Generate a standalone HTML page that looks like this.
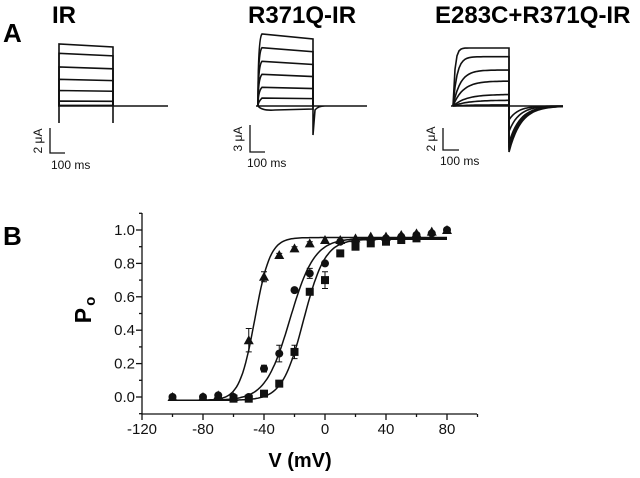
<!DOCTYPE html>
<html><head><meta charset="utf-8"><style>
html,body{margin:0;padding:0;background:#fff;}
svg{display:block;font-family:"Liberation Sans",Arial,sans-serif;}
</style></head><body>
<svg id="fig" width="640" height="478" viewBox="0 0 640 478">
<g id="panelA">
<text x="3" y="42" font-size="26" font-weight="bold">A</text>
<text x="52" y="23" font-size="24" font-weight="bold">IR</text>
<text x="248" y="23" font-size="24" font-weight="bold">R371Q-IR</text>
<text x="435" y="23" font-size="24" font-weight="bold">E283C+R371Q-IR</text>
<g id="traces" fill="none" stroke="#111" stroke-width="1.6"></g>
<g stroke="#111" stroke-width="1.3" fill="none">
<path d="M50 128 V153 H65"/><path d="M250 125 V152 H265"/><path d="M443 128 V150 H459"/>
</g>
<g font-size="12" fill="#111">
<text transform="translate(42,141) rotate(-90)" text-anchor="middle">2 μA</text>
<text x="51" y="169">100 ms</text>
<text transform="translate(242,139) rotate(-90)" text-anchor="middle">3 μA</text>
<text x="247" y="167">100 ms</text>
<text transform="translate(435,139) rotate(-90)" text-anchor="middle">2 μA</text>
<text x="440" y="165">100 ms</text>
</g>
</g>
<g id="panelB">
<text x="3" y="245" font-size="26" font-weight="bold">B</text>
<g id="axes" stroke="#111" stroke-width="1.3" fill="none"></g>
<g id="ticklabels" font-size="15" fill="#111"></g>
<text transform="translate(91,310) rotate(-90)" text-anchor="middle" font-size="23" font-weight="bold">P<tspan font-size="15" dy="4" dx="2">o</tspan></text>
<text x="300" y="467" text-anchor="middle" font-size="20" font-weight="bold">V (mV)</text>
<g id="fits" fill="none" stroke="#111" stroke-width="1.5"></g>
<g id="points" fill="#111" stroke="#111"></g>
</g>
</svg>
<script>
// Panel B data
var voltages = [-100,-80,-70,-60,-50,-40,-30,-20,-10,0,10,20,30,40,50,60,70,80];
var triangleVals = [0,0,0.01,0,0.34,0.72,0.85,0.89,0.92,0.94,0.94,0.95,0.96,0.96,0.97,0.98,0.99,1.0];
var triangleErr = [0,0,0,0,0.07,0.03,0.01,0.01,0.01,0,0,0,0,0,0,0,0,0];
var circleVals = [0,0,0.01,0,0,0.17,0.26,0.64,0.74,0.80,0.93,0.93,0.94,0.95,0.96,0.97,0.98,1.0];
var circleErr = [0,0,0,0,0,0.02,0.05,0,0.03,0,0,0,0,0,0,0,0,0];
var squareVolts = [-60,-50,-40,-30,-20,-10,0,10,20,30,40,50,60];
var squareVals = [-0.01,-0.01,0.02,0.08,0.27,0.63,0.70,0.86,0.90,0.92,0.93,0.94,0.95];
var squareErr = [0,0.01,0,0,0.04,0,0.05,0,0,0,0,0,0];
var fitVhalf = [-46,-23,-14];
var fitSlope = [5,8,7];
var fitBottom = [-0.02,-0.02,-0.02];
var fitTop = [0.955,0.95,0.945];
var xTicks = [-120,-80,-40,0,40,80];
var yTicks = [0,0.2,0.4,0.6,0.8,1.0];
var yTickLabels = ["0.0","0.2","0.4","0.6","0.8","1.0"];

// Panel A trace levels (fraction of max)
var irLevels = [1,0.85,0.63,0.43,0.25,0.08,0.01];
var r371Levels = [1,0.81,0.62,0.44,0.26,0.11,-0.04];
var e283Levels = [1,0.85,0.62,0.43,0.20,0.10,0.02];
var e283Tails = [1,0.95,0.9,0.8,0.55,0.3];

var NS="http://www.w3.org/2000/svg";
function mk(tag,attrs,parent){var e=document.createElementNS(NS,tag);for(var k in attrs)e.setAttribute(k,attrs[k]);parent.appendChild(e);return e;}

// ---- Panel A
var tr=document.getElementById('traces');
function lvl(base,amp,f){return base-amp*f;}
irLevels.forEach(function(f,i){
  var y0=lvl(106,62,f), y1=lvl(106,59,f);
  var p=mk('path',{d:'M59 106 L59 '+y0+' L113 '+y1+' L113 106'},tr);
  
  
});
var b=mk('path',{d:'M58 106 H168 M59 106 V123 M113 106 V123'},tr);


r371Levels.forEach(function(f,i){
  var y0=lvl(106,72,f), y1=lvl(106,67,f);
  var d = f<0 ? 'M258 106 Q262 111 275 110 L313 109 L313 106' : 'M258 106 Q258 '+(y0+4)+' 262 '+y0+' L313 '+y1+' L313 106';
  var p=mk('path',{d:d},tr);
  
  
});
var b2=mk('path',{d:'M256 106 H367 M313 106 L313 135 L315 110 Q318 106 325 106'},tr);


e283Levels.forEach(function(f,i){
  var yss=lvl(106,58,f), tau=2+ (1-f)*14, d='M453 106';
  for(var t=0;t<=56;t+=2){d+=' L'+(453+t)+' '+(106-(106-yss)*(1-Math.exp(-t/tau))).toFixed(1);}
  d+=' L509 106';
  var p=mk('path',{d:d},tr);
  
  
});
e283Tails.forEach(function(f,i){
  var d='M509 106';
  for(var t=0;t<=54;t+=2){d+=' L'+(509+t)+' '+(106+46*f*Math.exp(-t/(8+4*f))).toFixed(1);}
  var p=mk('path',{d:d},tr);
  
  
});
var b3=mk('path',{d:'M451 106 H563'},tr);



// ---- Panel B
function X(v){return 325+(v)*1.525;}
function Y(p){return 397-p*167;}
var ax=document.getElementById('axes');
var axl=mk('path',{d:'M142 213 V414 H477'},ax);


for(var v=-120;v<=100;v+=20){
  var major=(v%40===0);
  var t=mk('line',{x1:X(v),x2:X(v),y1:414,y2:major?420:417},ax);
  
  
}
for(var k=-1;k<=11;k++){
  var p=k/10, major=(k>=0&&k%2===0);
  var t2=mk('line',{x1:major?136:139,x2:142,y1:Y(p),y2:Y(p)},ax);
  
  
}
var tl=document.getElementById('ticklabels');
xTicks.forEach(function(v){
  var e=mk('text',{x:X(v),y:434,'text-anchor':'middle'},tl);e.textContent=v;
  
  
});
yTicks.forEach(function(p,i){
  var e=mk('text',{x:135,y:Y(p)+5,'text-anchor':'end'},tl);e.textContent=yTickLabels[i];
  
  
});
var fits=document.getElementById('fits');
fitVhalf.forEach(function(vh,i){
  var d='';
  for(var v=-100;v<=80;v+=1){
    var p=fitBottom[i]+(fitTop[i]-fitBottom[i])/(1+Math.exp((vh-v)/fitSlope[i]));
    d+=(v===-100?'M':' L')+X(v).toFixed(1)+' '+Y(p).toFixed(1);
  }
  var e=mk('path',{d:d},fits);
  
  
});
var pts=document.getElementById('points');
function errbar(x,y,e,name){
  if(!e)return;
  var g=mk('path',{d:'M'+x+' '+Y(y-e)+' V'+Y(y+e)+' M'+(x-3)+' '+Y(y-e)+' h6 M'+(x-3)+' '+Y(y+e)+' h6','stroke-width':1,fill:'none'},pts);
  
  
}
voltages.forEach(function(v,i){
  var x=X(v),y=Y(circleVals[i]);
  errbar(x,circleVals[i],circleErr[i],'circle');
  var c=mk('circle',{cx:x,cy:y,r:4,'stroke-width':0},pts);
  
  
});
squareVolts.forEach(function(v,i){
  var x=X(v),y=Y(squareVals[i]);
  errbar(x,squareVals[i],squareErr[i],'square');
  var r=mk('rect',{x:x-4,y:y-4,width:8,height:8,'stroke-width':0},pts);
  
  
});
voltages.forEach(function(v,i){
  var x=X(v),y=Y(triangleVals[i]);
  errbar(x,triangleVals[i],triangleErr[i],'triangle');
  var t=mk('polygon',{points:(x-5)+','+(y+4)+' '+(x+5)+','+(y+4)+' '+x+','+(y-5),'stroke-width':0},pts);
  
  
});
</script>
</body></html>
